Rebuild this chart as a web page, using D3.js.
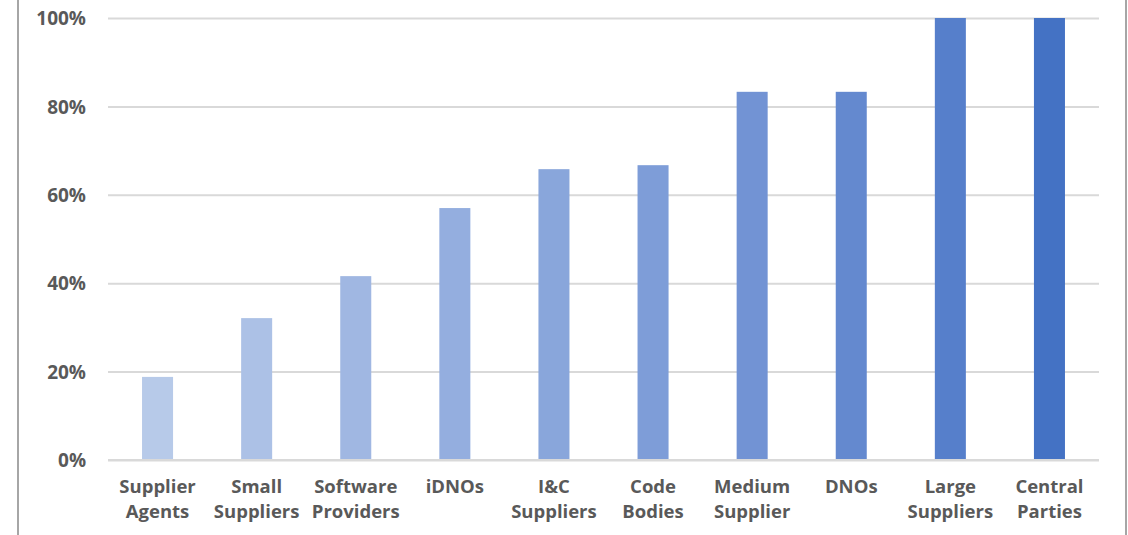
<!DOCTYPE html>
<html>
<head>
<meta charset="utf-8">
<script src="https://d3js.org/d3.v7.min.js"></script>
<style>
  body { margin: 0; background: #fff; }
  svg text { font-family: "Open Sans", sans-serif; font-weight: bold; fill: #595959; }
</style>
</head>
<body>
<script>
// chart data
const categories = [
  ['Supplier', 'Agents'], ['Small', 'Suppliers'], ['Software', 'Providers'], ['iDNOs'],
  ['I&C', 'Suppliers'], ['Code', 'Bodies'], ['Medium', 'Supplier'], ['DNOs'],
  ['Large', 'Suppliers'], ['Central', 'Parties']
];
const values = [0.188, 0.321, 0.416, 0.570, 0.658, 0.667, 0.833, 0.833, 1.0, 1.0];
const barColors = ['#b7cae9', '#acc1e6', '#a0b7e2', '#94aedf', '#89a6db',
                   '#7e9dd8', '#7293d4', '#6489cf', '#567fcb', '#4472c4'];
const yTicks = [0, 0.2, 0.4, 0.6, 0.8, 1.0];

let width = 1128;
let height = 535;
let margin = { left: 108, right: 29, top: 18, bottom: 75 };

let svg = d3.select('body').append('svg')
  .attr('width', width)
  .attr('height', height);

// frame lines left/right
svg.append('line').attr('x1', 18).attr('x2', 18).attr('y1', 0).attr('y2', height)
  .attr('stroke', '#a6a6a6').attr('stroke-width', 2);
svg.append('line').attr('x1', 1126).attr('x2', 1126).attr('y1', 0).attr('y2', height)
  .attr('stroke', '#a6a6a6').attr('stroke-width', 2);

let xScale = d3.scaleBand()
  .domain(d3.range(categories.length))
  .range([margin.left, width - margin.right])
  .paddingInner(0.687)
  .paddingOuter(0.3435);

let yScale = d3.scaleLinear()
  .domain([0, 1])
  .range([height - margin.bottom, margin.top]);

// gridlines + y labels
let yAxis = d3.axisLeft(yScale)
  .tickValues(yTicks)
  .tickFormat(d3.format('.0%'))
  .tickSize(-(width - margin.left - margin.right))
  .tickPadding(22);

let yg = svg.append('g')
  .attr('transform', 'translate(' + margin.left + ',0)')
  .call(yAxis);
yg.select('.domain').remove();
yg.selectAll('.tick line').attr('stroke', '#d9d9d9').attr('stroke-width', 2);
yg.selectAll('.tick text').style('font-size', '19px').attr('dy', '0.35em');

// bars
svg.selectAll('rect.bar')
  .data(values)
  .enter()
  .append('rect')
  .attr('class', 'bar')
  .attr('x', (d, i) => xScale(i))
  .attr('y', (d) => yScale(d))
  .attr('width', xScale.bandwidth())
  .attr('height', (d) => yScale(0) - yScale(d))
  .attr('fill', (d, i) => barColors[i]);

// baseline over bars
svg.append('line')
  .attr('x1', margin.left).attr('x2', width - margin.right)
  .attr('y1', yScale(0)).attr('y2', yScale(0))
  .attr('stroke', '#d9d9d9').attr('stroke-width', 2);

// category labels
let labels = svg.selectAll('text.cat')
  .data(categories)
  .enter()
  .append('text')
  .attr('class', 'cat')
  .attr('text-anchor', 'middle')
  .attr('x', (d, i) => xScale(i) + xScale.bandwidth() / 2)
  .attr('y', 493)
  .style('font-size', '18.5px');
labels.selectAll('tspan')
  .data((d) => d)
  .enter()
  .append('tspan')
  .attr('x', function() { return this.parentNode.getAttribute('x'); })
  .attr('dy', (d, i) => i === 0 ? 0 : 24.5)
  .text((d) => d);
</script>
</body>
</html>
